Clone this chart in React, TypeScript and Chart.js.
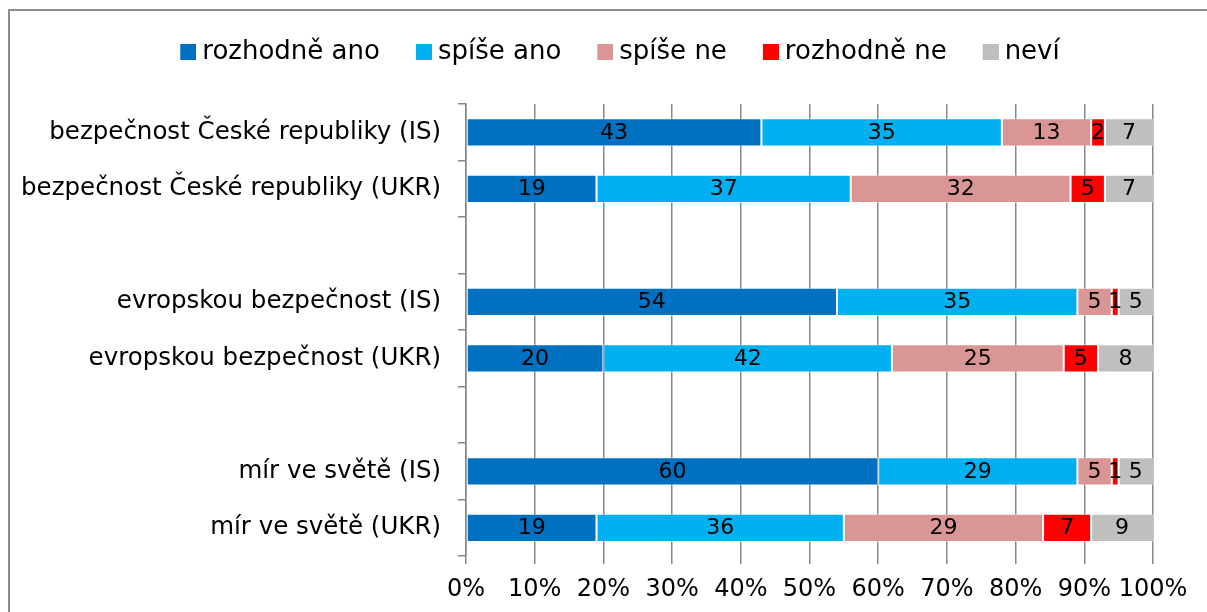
import React, { useEffect, useRef } from "react";
import { Chart, registerables } from "chart.js";

Chart.register(...registerables);

const categories = [
  "bezpečnost České republiky (IS)",
  "bezpečnost České republiky (UKR)",
  "",
  "evropskou bezpečnost (IS)",
  "evropskou bezpečnost (UKR)",
  "",
  "mír ve světě (IS)",
  "mír ve světě (UKR)",
];

const seriesNames = ["rozhodně ano", "spíše ano", "spíše ne", "rozhodně ne", "neví"];
const rozhodneAno = [43, 19, null, 54, 20, null, 60, 19];
const spiseAno = [35, 37, null, 35, 42, null, 29, 36];
const spiseNe = [13, 32, null, 5, 25, null, 5, 29];
const rozhodneNe = [2, 5, null, 1, 5, null, 1, 7];
const nevi = [7, 7, null, 5, 8, null, 5, 9];
const seriesColors = ["#0070C0", "#00B0F0", "#D99694", "#FF0000", "#BFBFBF"];
const xTicks = [0, 10, 20, 30, 40, 50, 60, 70, 80, 90, 100];

const FONT = "'DejaVu Sans', Verdana, sans-serif";

function makeIcon(color: string) {
  const c = document.createElement("canvas");
  c.width = 30;
  c.height = 16;
  const g = c.getContext("2d")!;
  g.fillStyle = color;
  g.fillRect(14, 0, 16, 16);
  return c;
}

const valueLabels = {
  id: "valueLabels",
  afterDatasetsDraw(chart: any) {
    const ctx = chart.ctx;
    ctx.save();
    ctx.font = `22px ${FONT}`;
    ctx.fillStyle = "#000";
    ctx.textAlign = "center";
    ctx.textBaseline = "middle";
    chart.data.datasets.forEach((ds: any, i: number) => {
      const meta = chart.getDatasetMeta(i);
      meta.data.forEach((el: any, j: number) => {
        const v = ds.data[j];
        if (v === null || v === undefined) return;
        const cx = (el.x + el.base) / 2;
        ctx.fillText(String(v), cx, el.y + 1);
      });
    });
    ctx.restore();
  },
};

const legendSpacer = {
  id: "legendSpacer",
  beforeInit(chart: any) {
    const lg = chart.legend;
    if (!lg) return;
    const orig = lg.fit;
    lg.fit = function () {
      orig.call(this);
      this.height = 94;
    };
  },
  afterLayout(chart: any) {
    if (chart.legend) chart.legend.left += 80;
  },
};

export default function App() {
  const ref = useRef<HTMLCanvasElement>(null);
  useEffect(() => {
    if (!ref.current) return;
    const all = [rozhodneAno, spiseAno, spiseNe, rozhodneNe, nevi];
    const icons = seriesColors.map(makeIcon);
    const chart = new Chart(ref.current, {
      type: "bar",
      data: {
        labels: categories,
        datasets: all.map((d, i) => ({
          label: seriesNames[i],
          data: d,
          backgroundColor: seriesColors[i],
          borderColor: "rgba(255,255,255,0.45)",
          borderWidth: 1,
          borderSkipped: false,
          barPercentage: 0.5,
          categoryPercentage: 1,
        })),
      },
      options: {
        indexAxis: "y",
        responsive: true,
        maintainAspectRatio: false,
        animation: false,
        layout: { padding: { top: 10, left: 0, right: 54, bottom: 0 } },
        plugins: {
          legend: {
            position: "top",
            labels: {
              font: { family: FONT, size: 26 },
              color: "#000",
              boxWidth: 16,
              boxHeight: 16,
              padding: 29,
              usePointStyle: true,
              generateLabels: (c: any) =>
                (Chart.defaults.plugins.legend.labels.generateLabels as any)(c).map(
                  (l: any, i: number) => ({ ...l, pointStyle: icons[i] })
                ),
            },
          },
          tooltip: { enabled: false },
        },
        scales: {
          x: {
            stacked: true,
            min: 0,
            max: 100,
            afterFit(scale: any) {
              scale.height = 56;
            },
            afterBuildTicks(scale: any) {
              scale.ticks = xTicks.map((v) => ({ value: v }));
            },
            ticks: {
              font: { family: FONT, size: 24 },
              color: "#000",
              padding: 11,
              maxRotation: 0,
              minRotation: 0,
              autoSkip: false,
              callback: (v: any) => `${v}%`,
            },
            grid: {
              color: "#878787",
              lineWidth: 1.5,
              tickLength: 8,
              drawOnChartArea: true,
            },
            border: { display: false },
          },
          y: {
            stacked: true,
            offset: true,
            afterFit(scale: any) {
              scale.width = 466;
            },
            ticks: {
              font: { family: FONT, size: 24.5 },
              color: "#000",
              padding: 17,
              autoSkip: false,
            },
            grid: {
              offset: true,
              drawOnChartArea: false,
              color: "#878787",
              lineWidth: 1.5,
              tickLength: 8,
            },
            border: { display: true, color: "#878787", width: 1.5 },
          },
        },
      },
      plugins: [valueLabels, legendSpacer],
    } as any);
    return () => chart.destroy();
  }, []);

  return (
    <div
      style={{
        position: "fixed",
        left: 0,
        top: 0,
        width: 1207,
        height: 612,
        overflow: "hidden",
        background: "#fff",
      }}
    >
      <div
        style={{
          position: "absolute",
          left: 8,
          top: 9,
          width: 1300,
          height: 700,
          border: "2px solid #8c8c8c",
        }}
      />
      <div style={{ position: "absolute", left: 0, top: 0, width: 1207, height: 612 }}>
        <canvas ref={ref} />
      </div>
    </div>
  );
}
